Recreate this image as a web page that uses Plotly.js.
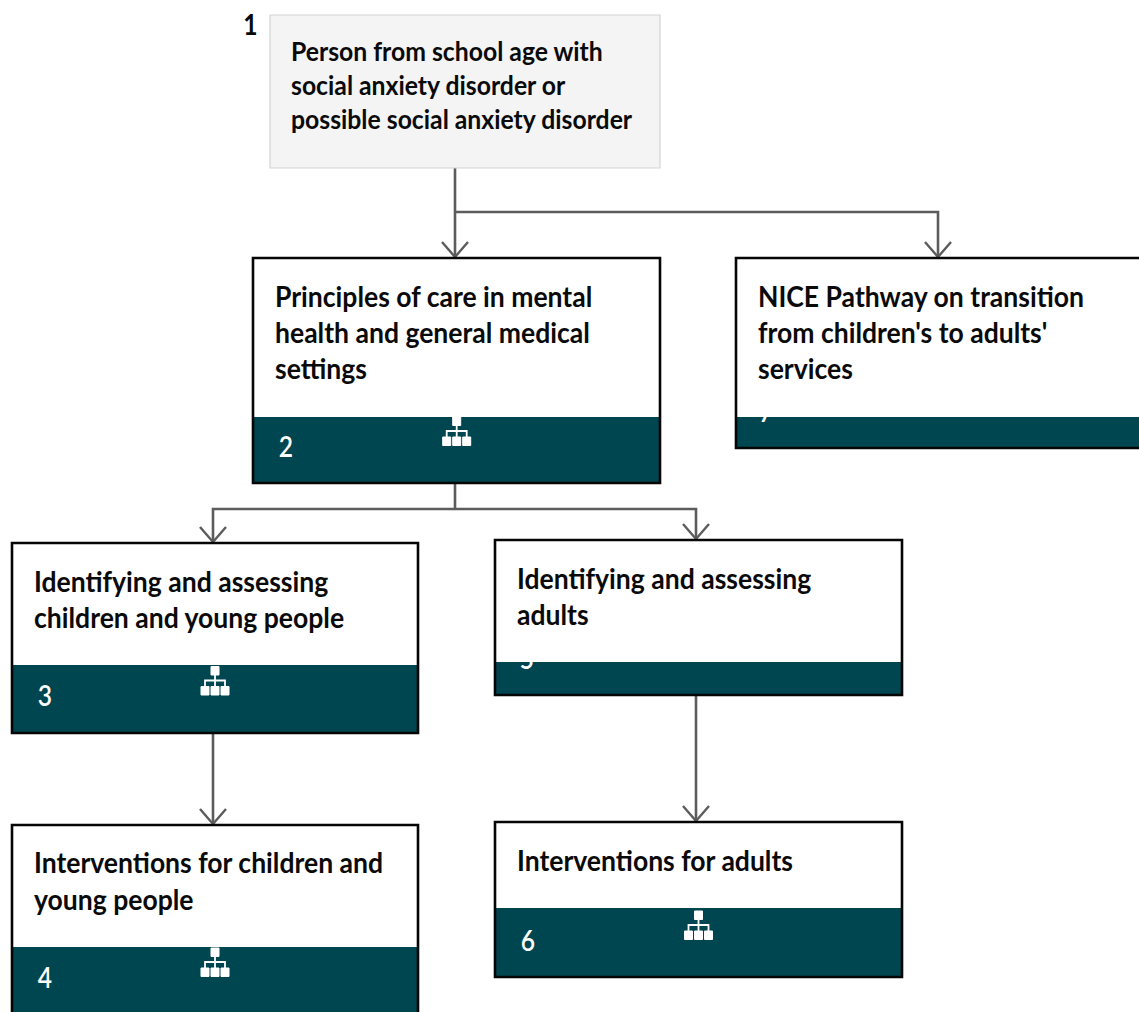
<!DOCTYPE html>
<html>
<head>
<meta charset="utf-8">
<script src="https://cdn.plot.ly/plotly-3.0.1.min.js"></script>
<style>html,body{margin:0;padding:0;background:#fff;overflow:hidden}#c{width:1139px;height:1012px}#c text{font-variant-ligatures:none}</style>
</head>
<body>
<div id="c"></div>
<script>
// Diagram content
const stepNumbers = ["1","2","7","3","5","4","6"];
const stepLines = [
  ["Person from school age with","social anxiety disorder or","possible social anxiety disorder"],
  ["Principles of care in mental","health and general medical","settings"],
  ["NICE Pathway on transition","from children's to adults'","services"],
  ["Identifying and assessing","children and young people"],
  ["Identifying and assessing","adults"],
  ["Interventions for children and","young people"],
  ["Interventions for adults"]
];
// Node geometry on a pixel-like diagram scale
const boxLeft   = [270, 253, 736,  12, 495,  12, 495];
const boxRight  = [660, 660,1141, 418, 902, 418, 902];
const boxTop    = [ 15, 258, 258, 543, 540, 825, 822];
const boxBottom = [168, 483, 448, 733, 695,1014, 977];
const bandTop   = [null,417, 417, 665, 662, 947, 908];
const firstLineY= [ 50, 295, 295, 580, 577, 861, 859];
const lineStep  = [ 34,  36,  36,  36,  36,  37,  36];
const textFontSize = [27.5,29,29,29,29,29,29];
const numberX   = [250, 286, 766,  45, 527,  45, 528];
const numberY   = [ 23, 450, 415, 699, 662, 981, 944];
const iconX     = [456.7, 215, 215, 698.5];
const iconY     = [417, 666.5, 948, 911];
const connectors = [
  [[455,168],[455,257]],
  [[455,212],[938,212],[938,257]],
  [[455,483],[455,509]],
  [[455,509],[213,509],[213,542]],
  [[455,509],[696,509],[696,539]],
  [[213,733],[213,824]],
  [[696,695],[696,821]]
];

const TEAL="#004650", GREY="#5c5c5c", FONT="Lato, sans-serif";
const shapes=[], annotations=[];
const pathOf=p=>p.map((q,i)=>(i?"L":"M")+q[0]+" "+q[1]).join(" ");

connectors.forEach((c,i)=>{
  shapes.push({type:"path",path:pathOf(c),layer:"above",line:{color:GREY,width:2.6}});
  if(i!==2){
    const e=c[c.length-1];
    shapes.push({type:"path",path:pathOf([[e[0]-13,e[1]-15],[e[0],e[1]],[e[0]+13,e[1]-15]]),layer:"above",line:{color:GREY,width:2.4}});
  }
});

stepLines.forEach((lines,i)=>{
  const L=boxLeft[i],R=boxRight[i],T=boxTop[i],B=boxBottom[i],M=bandTop[i];
  if(i===0){
    shapes.push({type:"rect",x0:L,x1:R,y0:T,y1:B,layer:"above",fillcolor:"#f4f4f4",line:{color:"#d2d6d6",width:1.2}});
  }else{
    shapes.push({type:"rect",x0:L,x1:R,y0:M,y1:B,layer:"below",fillcolor:TEAL,line:{width:0}});
    // body sits above the number text, hiding what overflows the band
    shapes.push({type:"rect",x0:L,x1:R,y0:T,y1:M,layer:"above",fillcolor:"#ffffff",line:{width:0}});
    shapes.push({type:"rect",x0:L,x1:R,y0:T,y1:B,layer:"above",fillcolor:"rgba(0,0,0,0)",line:{color:"#050505",width:2.6}});
  }
  lines.forEach((t,k)=>annotations.push({
    x:L+(i===0?19:20),y:firstLineY[i]+k*lineStep[i],text:t,showarrow:false,xanchor:"left",yanchor:"middle",align:"left",
    font:{family:FONT,size:textFontSize[i],color:"#0a0a0a",weight:700}
  }));
});

iconX.forEach((cx,i)=>{
  const y=iconY[i];
  const node=(x0,y0)=>({type:"rect",x0:x0-4,x1:x0+4,y0:y0,y1:y0+8.5,layer:"above",fillcolor:"#fff",line:{color:"#fff",width:1}});
  shapes.push(node(cx,y),node(cx-10,y+20),node(cx,y+20),node(cx+10,y+20));
  shapes.push({type:"path",path:`M${cx} ${y+8} L${cx} ${y+20} M${cx-10} ${y+20} L${cx-10} ${y+14} L${cx+10} ${y+14} L${cx+10} ${y+20}`,layer:"above",line:{color:"#fff",width:1.8}});
});

const numberTrace={
  type:"scatter",mode:"text",hoverinfo:"skip",cliponaxis:true,
  x:numberX.slice(1),y:numberY.slice(1),text:stepNumbers.slice(1),
  textposition:"middle center",
  textfont:{family:FONT,size:29,color:"#ffffff",weight:600}
};
annotations.push({x:numberX[0],y:numberY[0],text:stepNumbers[0],showarrow:false,font:{family:FONT,size:29,color:"#0a0a0a",weight:700}});

Plotly.newPlot("c",[numberTrace],{
  width:1139,height:1012,margin:{l:0,r:0,t:0,b:0},
  paper_bgcolor:"#fff",plot_bgcolor:"#fff",showlegend:false,
  xaxis:{range:[0,1139],visible:false,fixedrange:true},
  yaxis:{range:[1012,0],visible:false,fixedrange:true},
  shapes,annotations
},{displayModeBar:false,staticPlot:true}).then(()=>{
  // the reference type is horizontally condensed
  const squeeze=(el,f)=>{
    el.setAttribute("textLength",(el.getComputedTextLength()*f).toFixed(1));
    el.setAttribute("lengthAdjust","spacingAndGlyphs");
  };
  const notes=document.querySelectorAll("#c .annotation-text");
  notes.forEach((el,i)=>squeeze(el, i<3 ? 0.90 : (i===notes.length-1 ? 0.85 : 0.915)));
  document.querySelectorAll("#c .textpoint text").forEach(el=>squeeze(el,0.85));
});
</script>
</body>
</html>
